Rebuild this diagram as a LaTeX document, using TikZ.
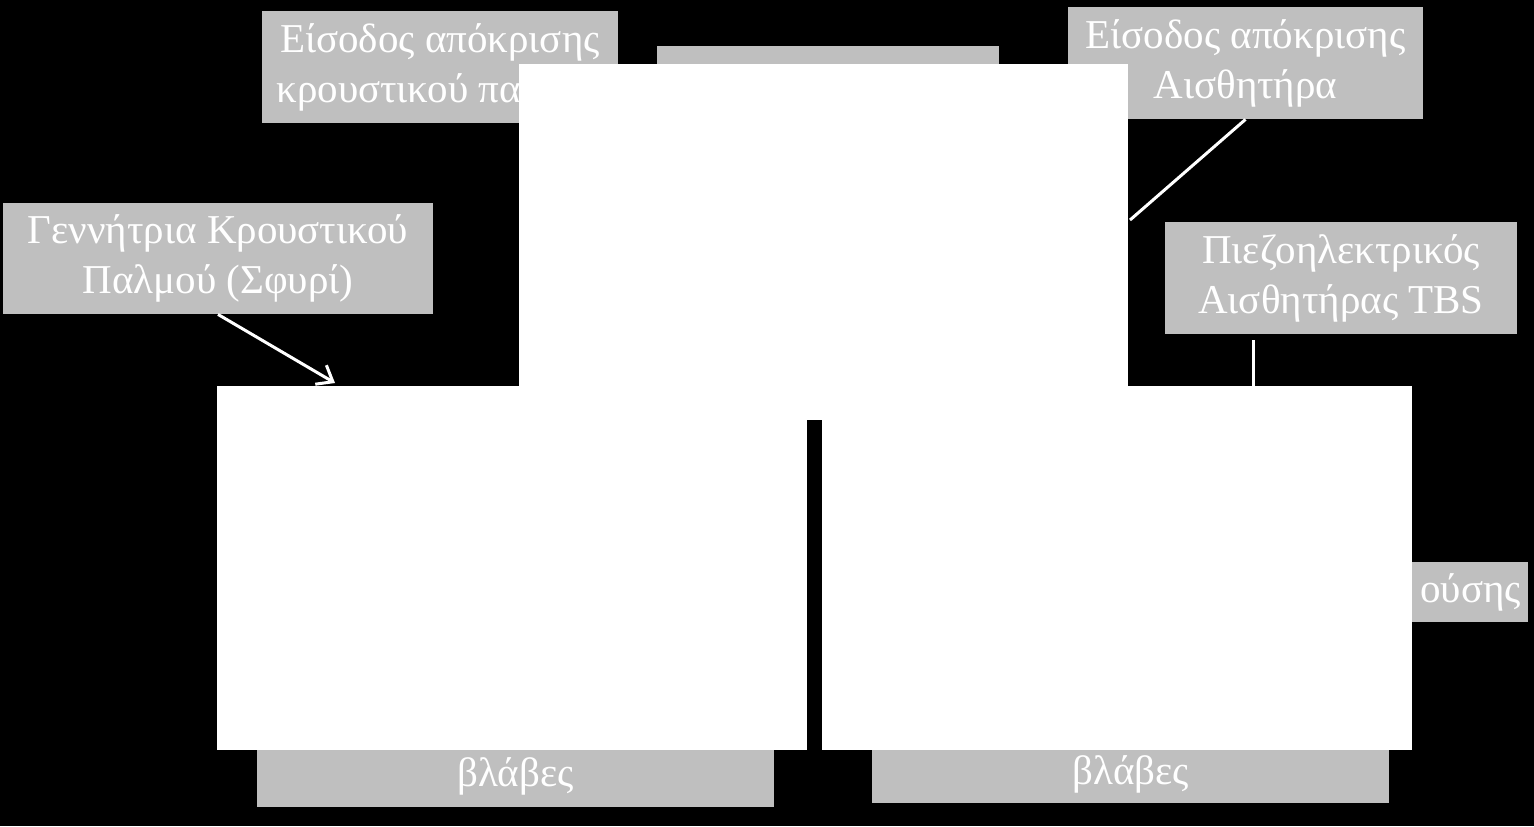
\documentclass[tikz,border=0pt]{standalone}
\usepackage{fontspec}
\setmainfont{Liberation Serif}
\usetikzlibrary{positioning, arrows.meta}
\definecolor{LblGray}{RGB}{191,191,191}

\begin{document}
\begin{tikzpicture}[x=0.5pt, y=-0.5pt,
          lbl/.style={rectangle, fill=LblGray, text=white, align=center,
                      inner sep=0pt, font=\fontsize{20.5}{25}\selectfont},
          img/.style={rectangle, fill=white, inner sep=0pt},
          arr/.style={-{Straight Barb[length=7pt, width=11pt]}, draw=white, line width=1.5pt},
          ln/.style={draw=white, line width=1.5pt}
        ]
        \fill[black] (0,0) rectangle (1534,826);
        \useasboundingbox (0,0) rectangle (1534,826);

        % labels behind the pictures
        \node[lbl, minimum width=178pt, minimum height=56pt]
              (inhammer) at (440,67) {Είσοδος απόκρισης\\κρουστικού παλμού};
        \node[lbl, minimum width=171pt, minimum height=56pt]
              (inmid) at (828,102) {};
        \node[lbl, minimum width=177.5pt, minimum height=56pt]
              (insensor) at (1245.5,63) {Είσοδος απόκρισης\\Αισθητήρα};
        \node[lbl, minimum width=215pt, minimum height=55.5pt]
              (hammer) at (218,258.5) {Γεννήτρια Κρουστικού\\Παλμού (Σφυρί)};
        \node[lbl, minimum width=176pt, minimum height=56pt]
              (sensor) at (1341,278) {Πιεζοηλεκτρικός\\Αισθητήρας TBS};

        \coordinate (hit)  at (335,383);
        \coordinate (tip)  at (1130,220);
        \coordinate (base) at (1253,386);

        \draw[arr] (hammer.south) -- (hit);
        \draw[ln]  (insensor.south) -- (tip);
        \draw[ln]  ([yshift=-3pt]sensor.south -| base) -- (base);

        \node[img, minimum width=304.5pt, minimum height=178pt] (imgtop) at (823.5,242) {};

        \node[lbl, minimum width=189pt, minimum height=30pt, text width=182pt,
              inner xsep=3.5pt, align=right]
              (zone) at (1339,592) {ούσης};
        \node[lbl, minimum width=258.5pt, minimum height=31pt]
              (dmgleft) at (515.5,776) {βλάβες};
        \node[lbl, minimum width=258.5pt, minimum height=29pt]
              (dmgright) at (1130.5,774) {βλάβες};

        \node[img, minimum width=295pt, minimum height=182pt] (imgleft)  at (512,568) {};
        \node[img, minimum width=295pt, minimum height=182pt] (imgright) at (1117,568) {};
      \end{tikzpicture}
\end{document}
